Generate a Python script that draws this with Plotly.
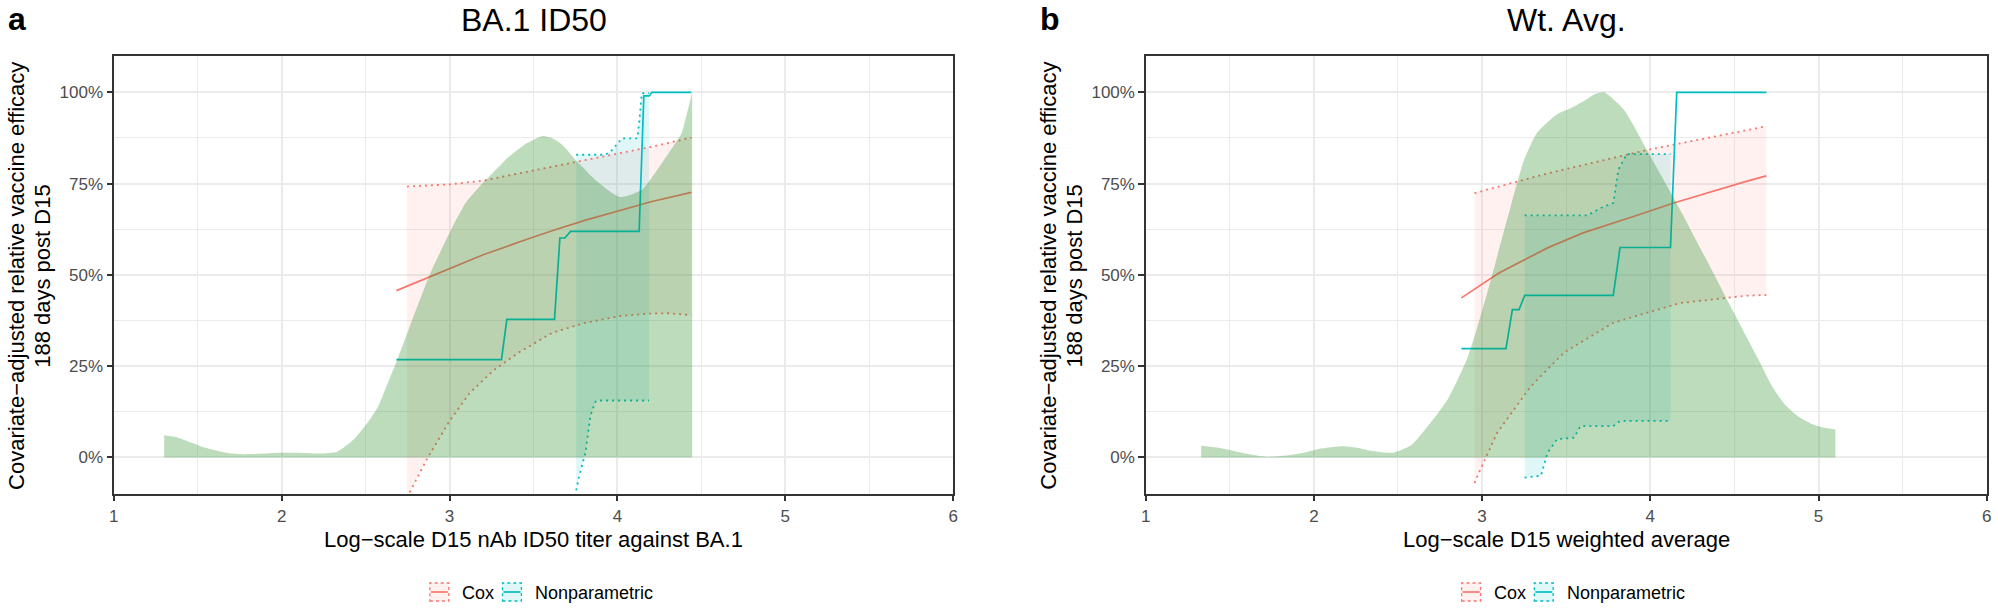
import plotly.graph_objects as go

W, H = 1998, 615

# ---------------- Panel a: BA.1 ID50 ----------------
a_dens_x = [1.30, 1.38, 1.46, 1.54, 1.62, 1.70, 1.78, 1.90, 1.99, 2.10, 2.23, 2.33, 2.43, 2.525, 2.575, 2.62,
            2.69, 2.78, 2.881, 3.019, 3.10, 3.197, 3.28, 3.355, 3.45, 3.552, 3.62, 3.672, 3.75, 3.868,
            3.987, 4.027, 4.145, 4.264, 4.343, 4.382, 4.41, 4.445]
a_dens_y = [0.061, 0.055, 0.041, 0.027, 0.018, 0.011, 0.009, 0.011, 0.013, 0.013, 0.011, 0.016, 0.05, 0.104, 0.14, 0.19,
            0.27, 0.38, 0.50, 0.633, 0.70, 0.751, 0.79, 0.824, 0.858, 0.880, 0.872, 0.856, 0.815, 0.76,
            0.719, 0.713, 0.733, 0.806, 0.86, 0.888, 0.935, 1.0]

a_cox_x = [2.683, 2.881, 3.019, 3.2, 3.414, 3.61, 3.81, 4.0, 4.205, 4.44]
a_cox_y = [0.457, 0.494, 0.52, 0.555, 0.59, 0.621, 0.65, 0.675, 0.701, 0.726]
a_cox_up_x = [2.746, 2.9, 3.0, 3.197, 3.414, 3.61, 3.81, 4.007, 4.205, 4.44]
a_cox_up_y = [0.742, 0.745, 0.748, 0.758, 0.778, 0.797, 0.815, 0.833, 0.851, 0.876]
a_cox_lo_x = [2.746, 2.79, 2.87, 3.0, 3.12, 3.26, 3.41, 3.61, 3.81, 4.01, 4.19, 4.30, 4.44]
a_cox_lo_y = [-0.11, -0.07, 0.0, 0.10, 0.177, 0.238, 0.287, 0.341, 0.369, 0.387, 0.394, 0.395, 0.39]

a_np_x = [2.683, 3.309, 3.341, 3.625, 3.657, 3.687, 3.72, 4.129, 4.157, 4.19, 4.205, 4.44]
a_np_y = [0.268, 0.268, 0.378, 0.378, 0.601, 0.601, 0.619, 0.619, 0.99, 0.99, 1.0, 1.0]
a_np_up_x = [3.754, 3.928, 3.96, 3.99, 4.027, 4.118, 4.13, 4.145, 4.188]
a_np_up_y = [0.829, 0.829, 0.838, 0.855, 0.874, 0.874, 0.92, 0.998, 0.998]
a_np_lo_x = [3.754, 3.77, 3.809, 3.839, 3.868, 3.878, 4.188]
a_np_lo_y = [-0.09, -0.055, 0.013, 0.115, 0.152, 0.156, 0.156]

# ---------------- Panel b: Wt. Avg. ----------------
b_dens_x = [1.33, 1.45, 1.60, 1.72, 1.85, 1.94, 2.05, 2.17, 2.25, 2.32, 2.47, 2.58, 2.69, 2.797, 2.915,
            3.03, 3.17, 3.25, 3.328, 3.446, 3.52, 3.60, 3.67, 3.725, 3.843, 3.98, 4.178, 4.375, 4.47,
            4.57, 4.65, 4.72, 4.80, 4.88, 4.95, 5.02, 5.10]
b_dens_y = [0.032, 0.025, 0.010, 0.002, 0.006, 0.013, 0.025, 0.031, 0.027, 0.020, 0.013, 0.034, 0.093, 0.16, 0.275,
            0.45, 0.687, 0.815, 0.89, 0.94, 0.955, 0.975, 0.995, 1.0, 0.952, 0.842, 0.678, 0.505, 0.42,
            0.332, 0.262, 0.198, 0.145, 0.112, 0.094, 0.083, 0.077]

b_cox_x = [2.877, 3.1, 3.389, 3.6, 3.9, 4.139, 4.57, 4.69]
b_cox_y = [0.437, 0.505, 0.574, 0.615, 0.66, 0.697, 0.756, 0.771]
b_cox_up_x = [2.955, 3.389, 3.98, 4.57, 4.69]
b_cox_up_y = [0.724, 0.778, 0.842, 0.897, 0.907]
b_cox_lo_x = [2.955, 2.973, 3.09, 3.29, 3.486, 3.78, 4.178, 4.57, 4.69]
b_cox_lo_y = [-0.07, -0.05, 0.068, 0.195, 0.287, 0.369, 0.423, 0.443, 0.445]

b_np_x = [2.877, 3.142, 3.18, 3.22, 3.253, 3.78, 3.82, 4.12, 4.157, 4.69]
b_np_y = [0.298, 0.298, 0.405, 0.405, 0.444, 0.444, 0.575, 0.575, 1.0, 1.0]
b_np_up_x = [3.253, 3.626, 3.705, 3.78, 3.81, 3.86, 4.12]
b_np_up_y = [0.663, 0.663, 0.683, 0.697, 0.788, 0.831, 0.831]
b_np_lo_x = [3.253, 3.35, 3.389, 3.446, 3.546, 3.585, 3.78, 3.82, 4.12]
b_np_lo_y = [-0.055, -0.05, 0.013, 0.05, 0.054, 0.086, 0.086, 0.10, 0.10]

titles = ["BA.1 ID50", "Wt. Avg."]
panel_labels = ["a", "b"]
x_titles = ["Log\u2212scale D15 nAb ID50 titer against BA.1", "Log\u2212scale D15 weighted average"]
y_title1 = "Covariate\u2212adjusted relative vaccine efficacy"
y_title2 = "188 days post D15"
x_ticks = [1, 2, 3, 4, 5, 6]
y_ticks = [0, 0.25, 0.5, 0.75, 1.0]
y_ticktext = ["0%", "25%", "50%", "75%", "100%"]
legend_labels = ["Cox", "Nonparametric"]

COX = "#F8766D"
NP = "#00BFC4"
COX_FILL = "rgba(248,118,109,0.10)"
NP_FILL = "rgba(0,191,196,0.12)"
DENS_FILL = "rgba(34,139,34,0.30)"
FONT = "Liberation Sans, Arial, sans-serif"
DOT = "2px,4px"

fig = go.Figure()


def add_panel(xa, ya, dens_x, dens_y, cox_x, cox_y, cu_x, cu_y, cl_x, cl_y,
              np_x, np_y, nu_x, nu_y, nl_x, nl_y):
    kw = dict(xaxis=xa, yaxis=ya, showlegend=False, hoverinfo="skip")
    # ribbons
    fig.add_trace(go.Scatter(x=cl_x + cu_x[::-1], y=cl_y + cu_y[::-1], fill="toself",
                             fillcolor=COX_FILL, line=dict(width=0), mode="lines", **kw))
    fig.add_trace(go.Scatter(x=nl_x + nu_x[::-1], y=nl_y + nu_y[::-1], fill="toself",
                             fillcolor=NP_FILL, line=dict(width=0), mode="lines", **kw))
    # dotted CI lines
    for xx, yy, c in [(cu_x, cu_y, COX), (cl_x, cl_y, COX), (nu_x, nu_y, NP), (nl_x, nl_y, NP)]:
        fig.add_trace(go.Scatter(x=xx, y=yy, mode="lines",
                                 line=dict(color=c, width=1.8, dash=DOT), **kw))
    # point estimates
    fig.add_trace(go.Scatter(x=cox_x, y=cox_y, mode="lines", line=dict(color=COX, width=1.7), **kw))
    fig.add_trace(go.Scatter(x=np_x, y=np_y, mode="lines", line=dict(color=NP, width=1.7), **kw))
    # density on top
    fig.add_trace(go.Scatter(x=dens_x, y=dens_y, mode="lines", fill="tozeroy", fillcolor=DENS_FILL,
                             line=dict(width=0, shape="spline", smoothing=0.6), **kw))


add_panel("x", "y", a_dens_x, a_dens_y, a_cox_x, a_cox_y, a_cox_up_x, a_cox_up_y, a_cox_lo_x, a_cox_lo_y,
          a_np_x, a_np_y, a_np_up_x, a_np_up_y, a_np_lo_x, a_np_lo_y)
add_panel("x2", "y2", b_dens_x, b_dens_y, b_cox_x, b_cox_y, b_cox_up_x, b_cox_up_y, b_cox_lo_x, b_cox_lo_y,
          b_np_x, b_np_y, b_np_up_x, b_np_up_y, b_np_lo_x, b_np_lo_y)

BORDER = "#333333"
GRID = "#EBEBEB"


def xaxis_cfg(left, right, anchor):
    return dict(domain=[left / W, right / W], anchor=anchor, range=[1, 6], tickmode="array",
                tickvals=x_ticks, ticktext=[str(t) for t in x_ticks], ticks="outside", ticklen=5.5,
                tickwidth=1.5, tickcolor=BORDER, showline=True, linecolor=BORDER, linewidth=1.7,
                mirror=True, showgrid=True, gridcolor=GRID, gridwidth=2, zeroline=False,
                minor=dict(tick0=1, dtick=0.5, showgrid=True, gridcolor=GRID, gridwidth=1.1, ticks=""),
                tickfont=dict(size=17, color="#4D4D4D", family=FONT), fixedrange=True)


def yaxis_cfg(anchor):
    return dict(domain=[(H - 494) / H, (H - 55.8) / H], anchor=anchor, range=[-0.1, 1.1], tickmode="array",
                tickvals=y_ticks, ticktext=y_ticktext, ticks="outside", ticklen=5.5, tickwidth=1.5,
                tickcolor=BORDER, showline=True, linecolor=BORDER, linewidth=1.7, mirror=True,
                showgrid=True, gridcolor=GRID, gridwidth=2, zeroline=False,
                minor=dict(tick0=0, dtick=0.125, showgrid=True, gridcolor=GRID, gridwidth=1.1, ticks=""),
                tickfont=dict(size=17, color="#4D4D4D", family=FONT), fixedrange=True)


ann = []
shapes = []


def px(x):
    return x / W


def py(y):
    return 1 - y / H


panel_left = [109.4, 1146.4]
panel_right = [953.0, 1991.7]
for i in range(2):
    off = 1037 * i
    L, R = panel_left[i], panel_right[i]
    ann.append(dict(text="<b>%s</b>" % panel_labels[i], x=px(1 + off), y=py(19), xref="paper", yref="paper",
                    xanchor="left", yanchor="middle", showarrow=False, font=dict(size=32, color="black", family=FONT)))
    ann.append(dict(text=titles[i], x=px((L + R) / 2), y=py(20), xref="paper", yref="paper",
                    xanchor="center", yanchor="middle", showarrow=False, font=dict(size=32, color="black", family=FONT)))
    ann.append(dict(text=x_titles[i], x=px((L + R) / 2), y=py(539), xref="paper", yref="paper",
                    xanchor="center", yanchor="middle", showarrow=False, font=dict(size=22, color="black", family=FONT)))
    ann.append(dict(text=y_title1, x=px(11 + off), y=py(276), xref="paper", yref="paper", textangle=-90,
                    xanchor="center", yanchor="middle", showarrow=False, font=dict(size=22, color="black", family=FONT)))
    ann.append(dict(text=y_title2, x=px(37 + off), y=py(276), xref="paper", yref="paper", textangle=-90,
                    xanchor="center", yanchor="middle", showarrow=False, font=dict(size=22, color="black", family=FONT)))
    # legend
    keys = [(427 + off, COX, COX_FILL, 457 + off, legend_labels[0]),
            (500 + off, NP, NP_FILL, 531 + off, legend_labels[1])]
    for kx, col, fcol, tx, lab in keys:
        shapes.append(dict(type="rect", xref="paper", yref="paper", x0=px(kx), x1=px(kx + 19),
                           y0=py(601), y1=py(583), fillcolor=fcol, line=dict(color=col, width=1.3, dash="dot")))
        shapes.append(dict(type="line", xref="paper", yref="paper", x0=px(kx + 1), x1=px(kx + 18),
                           y0=py(592), y1=py(592), line=dict(color=col, width=1.7)))
        ann.append(dict(text=lab, x=px(tx), y=py(593), xref="paper", yref="paper", xanchor="left",
                        yanchor="middle", showarrow=False, font=dict(size=18, color="black", family=FONT)))

fig.update_layout(
    width=W, height=H, margin=dict(l=0, r=0, t=0, b=0),
    paper_bgcolor="white", plot_bgcolor="white",
    xaxis=xaxis_cfg(panel_left[0], panel_right[0], "y"),
    yaxis=yaxis_cfg("x"),
    xaxis2=xaxis_cfg(panel_left[1], panel_right[1], "y2"),
    yaxis2=yaxis_cfg("x2"),
    annotations=ann, shapes=shapes, showlegend=False,
    font=dict(family=FONT),
)

fig.write_html("out.html", config={"displayModeBar": False},
               post_script="document.body.style.margin='0';document.body.style.overflow='hidden';")
